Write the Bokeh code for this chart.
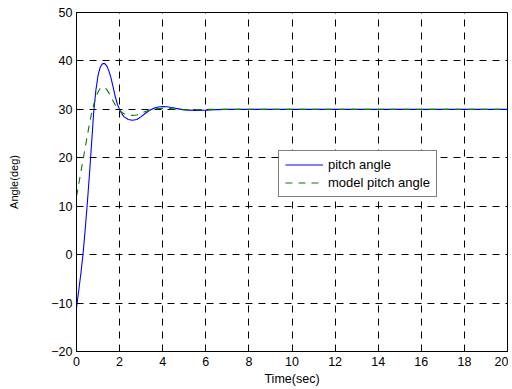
from bokeh.plotting import figure
from bokeh.models import Range1d, FixedTicker, Legend, LegendItem
from bokeh.embed import file_html
from bokeh.resources import INLINE

t_pitch = [0, 0.1, 0.2, 0.3, 0.4, 0.5, 0.6, 0.7, 0.8, 0.9, 1.0, 1.1, 1.2, 1.3, 1.4, 1.5,
           1.6, 1.7, 1.8, 1.9, 2.0, 2.1, 2.2, 2.4, 2.6, 2.8, 3.0, 3.2, 3.4, 3.6, 3.8,
           4.0, 4.2, 4.4, 4.6, 4.8, 5.0, 5.5, 6.0, 6.5, 7.0, 8, 10, 12, 14, 16, 18, 20]
pitch = [-11, -7.5, -4, 0, 5, 10.5, 16.5, 23, 29.5, 34, 37, 38.7, 39.4, 39.5, 39.0, 38.0,
         36.5, 34.6, 32.6, 31.0, 30.0, 29.1, 28.5, 27.9, 27.75, 27.9, 28.5, 29.2, 29.8, 30.25, 30.5,
         30.6, 30.55, 30.4, 30.2, 30.05, 29.9, 29.8, 29.85, 29.95, 30, 30, 30, 30, 30, 30, 30, 30]

t_model = [0, 0.1, 0.2, 0.3, 0.4, 0.5, 0.6, 0.7, 0.8, 0.9, 1.0, 1.1, 1.2, 1.3, 1.4, 1.5,
           1.6, 1.7, 1.8, 2.0, 2.2, 2.4, 2.6, 2.8, 3.0, 3.2, 3.4, 3.6, 3.8, 4.0, 4.3,
           4.6, 5.0, 5.5, 6.0, 8, 10, 12, 14, 16, 18, 20]
model = [12, 14.5, 17, 19.5, 22, 24.5, 27, 29.2, 31, 32.5, 33.6, 34.3, 34.55, 34.5, 34.1, 33.4,
         32.6, 31.7, 30.9, 29.7, 29.1, 28.85, 28.75, 28.85, 29.2, 29.55, 29.85, 30.05, 30.15, 30.2, 30.15,
         30.05, 29.95, 29.95, 30, 30, 30, 30, 30, 30, 30, 30]

x_ticks = [0, 2, 4, 6, 8, 10, 12, 14, 16, 18, 20]
y_ticks = [-20, -10, 0, 10, 20, 30, 40, 50]

FONT = "Liberation Sans"

p = figure(width=508, height=388, output_backend="svg", toolbar_location=None,
           x_range=Range1d(0, 20), y_range=Range1d(-20, 50),
           min_border_left=76, min_border_right=1, min_border_top=12, min_border_bottom=37)
p.background_fill_color = "white"
p.border_fill_color = "white"
p.outline_line_color = "black"
p.outline_line_width = 1

for ax in (p.xaxis[0], p.yaxis[0]):
    ax.major_tick_in = 4
    ax.major_tick_out = 0
    ax.minor_tick_in = 0
    ax.minor_tick_out = 0
    ax.axis_line_color = "black"
    ax.major_tick_line_color = "black"
    ax.major_label_text_font = FONT
    ax.major_label_text_font_size = "12.5px"
    ax.major_label_text_color = "black"
    ax.axis_label_text_font = FONT
    ax.axis_label_text_font_style = "normal"
    ax.axis_label_text_color = "black"

p.xaxis.axis_label_text_font_size = "12.5px"
p.yaxis.axis_label_text_font_size = "11px"
p.xaxis.ticker = FixedTicker(ticks=x_ticks)
p.yaxis.ticker = FixedTicker(ticks=y_ticks)
p.xaxis.axis_label = "Time(sec)"
p.yaxis.axis_label = "Angle(deg)"
p.xaxis.axis_label_standoff = 3
p.yaxis.axis_label_standoff = 28
p.xaxis.major_label_standoff = 5
p.yaxis.major_label_standoff = 4

for g in (p.xgrid[0], p.ygrid[0]):
    g.grid_line_color = "black"
    g.grid_line_dash = "7 6"
    g.grid_line_width = 1

r1 = p.line(t_pitch, pitch, line_color="#0000ff", line_width=1.1)
r2 = p.line(t_model, model, line_color="#008000", line_width=1.1, line_dash="7 6")

legend = Legend(items=[LegendItem(label="pitch angle", renderers=[r1]),
                       LegendItem(label="model pitch angle", renderers=[r2])],
                location=(202, 154))
legend.label_text_font = FONT
legend.label_text_font_size = "13px"
legend.label_text_color = "black"
legend.border_line_color = "black"
legend.border_line_width = 1
legend.background_fill_alpha = 1
legend.glyph_width = 38
legend.glyph_height = 15
legend.label_standoff = 5
legend.spacing = 3
legend.padding = 6
legend.margin = 0
legend.label_height = 15
p.add_layout(legend, "center")

open("out.html", "w").write(file_html(p, INLINE))
